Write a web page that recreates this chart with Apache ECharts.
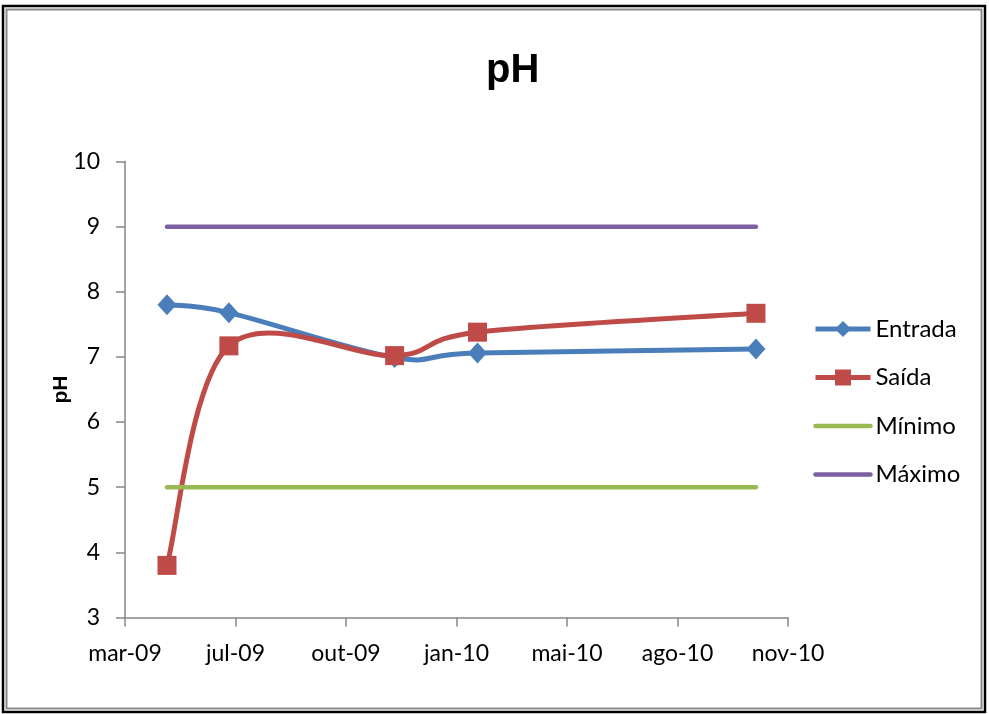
<!DOCTYPE html>
<html><head><meta charset="utf-8">
<script src="https://cdn.jsdelivr.net/npm/echarts@6/dist/echarts.min.js"></script>
<style>html,body{margin:0;padding:0;background:#fff}#c{width:989px;height:714px}</style>
</head><body><div id="c"></div>
<script>
// ---- data ----
const axisStart = '2009-03-28';      // first x tick (mar-09)
const dayInterval = 100;             // days between x ticks
const tickCount = 6;
const monthNames = ['jan','fev','mar','abr','mai','jun','jul','ago','set','out','nov','dez'];
const sampleDates = ['2009-05-05','2009-06-30','2009-11-27','2010-02-10','2010-10-20'];
const entrada = [7.80, 7.68, 6.99, 7.06, 7.12];
const saida   = [3.80, 7.17, 7.02, 7.38, 7.67];
const limitDates = ['2009-05-05','2010-10-20'];
const minimo = [5, 5];
const maximo = [9, 9];
const yMin = 3, yMax = 10, yInterval = 1;

const DAY = 86400000;
const t0 = Date.parse(axisStart);
const dayOf = d => (Date.parse(d) - t0) / DAY;
const pairs = (dates, vals) => dates.map((d, i) => [dayOf(d), vals[i]]);
const fmtDate = v => {
  const dt = new Date(t0 + v * DAY);
  return monthNames[dt.getUTCMonth()] + '-' + String(dt.getUTCFullYear()).slice(2);
};

const C_ENT = '#4A7EBB', C_SAI = '#BE4B48', C_MIN = '#98B954', C_MAX = '#7D60A0';
const LW = 5, LW_LIM = 4.5;
const FONT = 'Lato';

// Excel-style smoothed line (Catmull-Rom, 1/6) drawn through the axis scales
function splineSeries(id, dates, vals, color) {
  return {
    id: id, type: 'custom', silent: true, z: 2,
    data: [[dayOf(dates[0]), vals[0]]],
    renderItem: (params, api) => {
      const pts = dates.map((d, i) => api.coord([dayOf(d), vals[i]]));
      const children = [];
      for (let i = 0; i < pts.length - 1; i++) {
        const p0 = pts[Math.max(i - 1, 0)], p1 = pts[i], p2 = pts[i + 1], p3 = pts[Math.min(i + 2, pts.length - 1)];
        children.push({
          type: 'bezierCurve',
          shape: {
            x1: p1[0], y1: p1[1], x2: p2[0], y2: p2[1],
            cpx1: p1[0] + (p2[0] - p0[0]) / 6, cpy1: p1[1] + (p2[1] - p0[1]) / 6,
            cpx2: p2[0] - (p3[0] - p1[0]) / 6, cpy2: p2[1] - (p3[1] - p1[1]) / 6
          },
          style: {fill: null, stroke: color, lineWidth: LW, lineCap: 'round'}
        });
      }
      return {type: 'group', children: children};
    }
  };
}

const chart = echarts.init(document.getElementById('c'), null, {renderer: 'canvas'});
chart.setOption({
  animation: false,
  backgroundColor: '#fff',
  title: {
    text: 'pH', left: 481, top: 46,
    textStyle: {fontFamily: 'Liberation Sans', fontWeight: 'bold', fontSize: 40, color: '#000'}
  },
  graphic: [
    {type: 'rect', shape: {x: 3, y: 6, width: 982, height: 706}, style: {fill: 'none', stroke: '#000', lineWidth: 2.5}},
    {type: 'rect', shape: {x: 6.5, y: 9.5, width: 975, height: 699}, style: {fill: 'none', stroke: '#8a8a8a', lineWidth: 2}}
  ],
  grid: {left: 125, right: 201, top: 161.5, bottom: 96.5},
  legend: {
    orient: 'vertical', left: 808, top: 312,
    itemWidth: 55, itemHeight: 20, itemGap: 24.5,
    textStyle: {fontFamily: FONT, fontSize: 24, lineHeight: 24, color: '#000'},
    data: [
      {name: 'Entrada', lineStyle: {width: LW, opacity: 1, color: C_ENT}},
      {name: 'Saída', lineStyle: {width: LW, opacity: 1, color: C_SAI}},
      {name: 'Mínimo', lineStyle: {width: LW_LIM, opacity: 1, color: C_MIN}, itemStyle: {opacity: 0}},
      {name: 'Máximo', lineStyle: {width: LW_LIM, opacity: 1, color: C_MAX}, itemStyle: {opacity: 0}}
    ]
  },
  xAxis: {
    type: 'value', min: 0, max: dayInterval * tickCount, interval: dayInterval,
    axisLine: {show: true, lineStyle: {color: '#868686', width: 1.5}},
    axisTick: {show: true, length: 9, lineStyle: {color: '#868686', width: 1.5}},
    splitLine: {show: false},
    axisLabel: {margin: 25, fontFamily: FONT, fontSize: 23, color: '#000', formatter: fmtDate}
  },
  yAxis: {
    type: 'value', min: yMin, max: yMax, interval: yInterval,
    name: 'pH', nameLocation: 'middle', nameGap: 53, nameRotate: 90, nameMoveOverlap: false,
    nameTextStyle: {fontFamily: 'Liberation Sans', fontWeight: 'bold', fontSize: 21, color: '#000'},
    axisLine: {show: true, lineStyle: {color: '#868686', width: 1.5}},
    axisTick: {show: true, length: 9, lineStyle: {color: '#868686', width: 1.5}},
    splitLine: {show: false},
    axisLabel: {margin: 25, fontFamily: FONT, fontSize: 23, color: '#000'}
  },
  series: [
    splineSeries('entrada-curve', sampleDates, entrada, C_ENT),
    splineSeries('saida-curve', sampleDates, saida, C_SAI),
    {name: 'Mínimo', type: 'line', data: pairs(limitDates, minimo), symbol: 'none', color: C_MIN, z: 3,
     lineStyle: {width: LW_LIM, color: C_MIN, cap: 'round'}},
    {name: 'Máximo', type: 'line', data: pairs(limitDates, maximo), symbol: 'none', color: C_MAX, z: 3,
     lineStyle: {width: LW_LIM, color: C_MAX, cap: 'round'}},
    {name: 'Entrada', type: 'line', data: pairs(sampleDates, entrada), z: 4,
     symbol: 'diamond', symbolSize: [19, 21], color: C_ENT,
     lineStyle: {width: LW, color: C_ENT, opacity: 0}, itemStyle: {color: C_ENT}},
    {name: 'Saída', type: 'line', data: pairs(sampleDates, saida), z: 5,
     symbol: 'rect', symbolSize: 19, color: C_SAI,
     lineStyle: {width: LW, color: C_SAI, opacity: 0}, itemStyle: {color: C_SAI}}
  ]
});
</script></body></html>
